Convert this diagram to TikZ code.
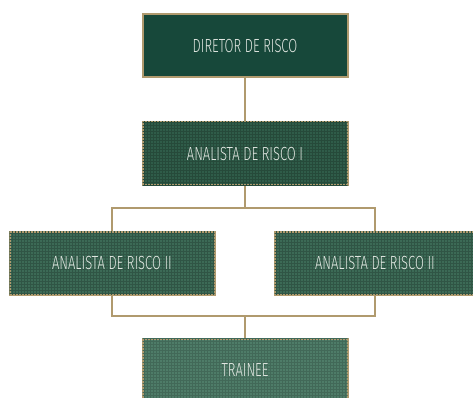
\documentclass[tikz,border=0pt]{standalone}
\usepackage{fontspec}
\newfontfamily\boxfont[FakeStretch=0.68]{Fira Sans Light}
\usetikzlibrary{patterns}
\definecolor{tan}{HTML}{B09A6E}
\definecolor{gA}{HTML}{17483A}
\definecolor{gB}{HTML}{2F5C49}
\definecolor{gC}{HTML}{3C6A56}
\definecolor{gD}{HTML}{4E7C68}
\definecolor{txt}{HTML}{E2E8E2}
\tikzset{
  orgbox/.style={draw=tan, line width=2pt, minimum width=205pt, minimum height=63pt,
    inner sep=0pt, text=txt, font=\boxfont\fontsize{19}{21}\selectfont},
  textured/.style={postaction={pattern=grid, pattern color=#1}},
  link/.style={draw=tan, line width=2pt}
}
\begin{document}
\begin{tikzpicture}[x=1pt,y=-1pt]
\useasboundingbox (0,0) rectangle (473,398);
\node[orgbox, fill=gA] (dir) at (245,46) {DIRETOR DE RISCO};
\node[orgbox, fill=gB, textured=gB!80!black] (a1) at (245,153.5) {ANALISTA DE RISCO I};
\node[orgbox, fill=gC, textured=gC!80!black] (a2l) at (112,263) {ANALISTA DE RISCO II};
\node[orgbox, fill=gC, textured=gC!80!black, minimum width=201pt] (a2r) at (375,263) {ANALISTA DE RISCO II};
\node[orgbox, fill=gD, textured=gD!85!black] (tr) at (245,370) {TRAINEE};
\coordinate (j1) at (245,208);
\coordinate (j2) at (245,316);
\draw[link] (dir.south) -- (a1.north);
\draw[link] (a1.south) -- (j1);
\draw[link] (a2l.north) |- (j1) -| (a2r.north);
\draw[link] (a2l.south) |- (j2) -| (a2r.south);
\draw[link] (j2) -- (tr.north);
\end{tikzpicture}
\end{document}
